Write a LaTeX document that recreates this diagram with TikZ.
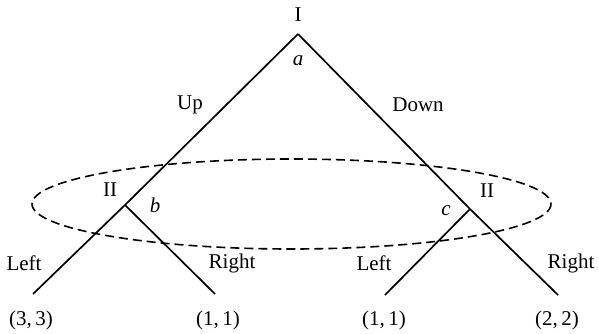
\documentclass[tikz,border=0pt]{standalone}
\usepackage{fontspec}
\setmainfont{Liberation Serif}
\begin{document}
\begin{tikzpicture}[x=1pt,y=-1pt,
  edge/.style={line width=1.7pt},
  lbl/.style={font=\fontsize{21}{24}\selectfont, inner sep=0pt}]
\useasboundingbox (0,0) rectangle (599,334);
% vertices
\coordinate (A) at (298,34);
\coordinate (B) at (125,205);
\coordinate (C) at (470,209);
\coordinate (L1) at (33,294);
\coordinate (L2) at (215,294);
\coordinate (L3) at (385,295);
\coordinate (L4) at (558,295);
% edges
\draw[edge] (A) -- (B);
\draw[edge] (B) -- (L1);
\draw[edge] (B) -- (L2);
\draw[edge] (A) -- (C);
\draw[edge] (C) -- (L3);
\draw[edge] (C) -- (L4);
% information set
\draw[line width=1.6pt, dash pattern=on 9pt off 5pt] (291.5,204) ellipse [x radius=259.5, y radius=45];
% labels
\node[lbl] (tI) at (298,15) {I};
\node[lbl] (ta) at (298,61) {\itshape a};
\node[lbl] (tUp) at (190,105) {Up};
\node[lbl] (tDown) at (418,105) {Down};
\node[lbl] (tII1) at (110,190) {II};
\node[lbl] (tb) at (155,205) {\itshape b};
\node[lbl] (tc) at (446,211) {\itshape c};
\node[lbl] (tII2) at (487,191) {II};
\node[lbl] (tL1) at (24,263) {Left};
\node[lbl] (tR1) at (232,263) {Right};
\node[lbl] (tL2) at (374,263) {Left};
\node[lbl] (tR2) at (571,263) {Right};
\node[lbl] (p1) at (31,320) {(3,\,3)};
\node[lbl] (p2) at (218,320) {(1,\,1)};
\node[lbl] (p3) at (384,320) {(1,\,1)};
\node[lbl] (p4) at (557,320) {(2,\,2)};
\end{tikzpicture}
\end{document}
